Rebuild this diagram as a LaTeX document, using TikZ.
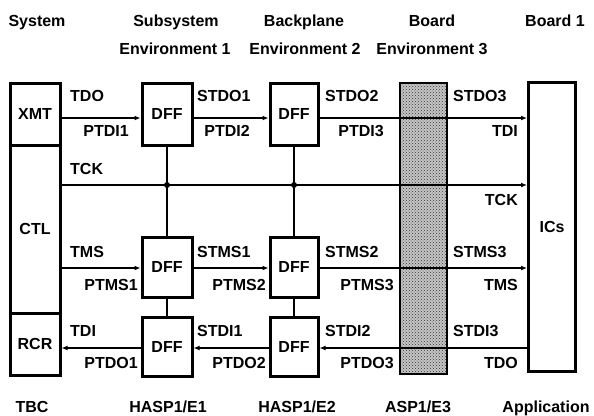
\documentclass[tikz,border=0pt]{standalone}
\usepackage{fontspec}
\setmainfont{Liberation Sans}
\usetikzlibrary{arrows.meta,patterns}
\begin{document}
\begin{tikzpicture}[x=1pt,y=-1pt,
  every node/.style={font=\bfseries\fontsize{16}{18}\selectfont, inner sep=0pt},
  box/.style={draw, line width=3pt},
  sig/.style={line width=2.2pt},
  arr/.style={sig, -{Latex[length=6pt,width=5pt]}},
  lab/.style={anchor=base west},
  rlab/.style={anchor=base east},
  hd/.style={anchor=base},
  dot/.style={circle, fill, minimum size=6pt, inner sep=0pt}]
\useasboundingbox (0,0) rectangle (594,415);
% shaded column
\fill[gray!45] (400,83) rectangle (447,374);
\fill[pattern=crosshatch dots, pattern color=black!80] (400,83) rectangle (447,374);
\draw[line width=2pt] (400,83) rectangle (447,374);
% boxes
\node[box, minimum width=50pt, minimum height=62pt] (xmt) at (35,114) {XMT};
\node[box, minimum width=50pt, minimum height=168pt] (ctl) at (35,229) {CTL};
\node[box, minimum width=50pt, minimum height=62pt] (rcr) at (35,344) {RCR};
\node[box, minimum width=50pt, minimum height=62pt] (d11) at (167,114) {DFF};
\node[box, minimum width=48pt, minimum height=62pt] (d12) at (294,114) {DFF};
\node[box, minimum width=50pt, minimum height=60pt] (d21) at (167,267) {DFF};
\node[box, minimum width=48pt, minimum height=60pt] (d22) at (294,267) {DFF};
\node[box, minimum width=50pt, minimum height=59pt] (d31) at (167,347) {DFF};
\node[box, minimum width=48pt, minimum height=59pt] (d32) at (294,347) {DFF};
\node[box, minimum width=47pt, minimum height=289pt] (ics) at (552,227) {ICs};
% TDI chain
\draw[arr] (xmt.east |- 0,118) -- (d11.west |- 0,118);
\draw[arr] (d11.east |- 0,118) -- (d12.west |- 0,118);
\draw[arr] (d12.east |- 0,118) -- (ics.west |- 0,118);
% TCK
\coordinate (j1) at (167,185);
\coordinate (j2) at (294,185);
\draw[arr] (ctl.east |- j1) -- (ics.west |- j1);
\node[dot] at (j1) {};
\node[dot] at (j2) {};
\draw[sig] (d11.south) -- (d21.north);
\draw[sig] (d12.south) -- (d22.north);
\draw[sig] (d21.south) -- (d31.north);
\draw[sig] (d22.south) -- (d32.north);
% TMS chain
\draw[arr] (ctl.east |- 0,268) -- (d21.west |- 0,268);
\draw[arr] (d21.east |- 0,268) -- (d22.west |- 0,268);
\draw[arr] (d22.east |- 0,268) -- (ics.west |- 0,268);
% TDO chain
\draw[arr] (ics.west |- 0,348) -- (d32.east |- 0,348);
\draw[arr] (d32.west |- 0,348) -- (d31.east |- 0,348);
\draw[arr] (d31.west |- 0,348) -- (rcr.east |- 0,348);
% labels row 1
\node[lab] (l1) at (70,101) {TDO};
\node[rlab] (l2) at (129,136) {PTDI1};
\node[lab] (l3) at (197,101) {STDO1};
\node[rlab] (l4) at (250,136) {PTDI2};
\node[lab] (l5) at (325,101) {STDO2};
\node[rlab] (l6) at (384,136) {PTDI3};
\node[lab] (l7) at (453,101) {STDO3};
\node[rlab] (l8) at (518,136) {TDI};
% TCK labels
\node[lab] (l9) at (70,174) {TCK};
\node[rlab] (l10) at (518,205) {TCK};
% labels row 2
\node[lab] (m1) at (70,257) {TMS};
\node[rlab] (m2) at (138,290) {PTMS1};
\node[lab] (m3) at (197,257) {STMS1};
\node[rlab] (m4) at (266,290) {PTMS2};
\node[lab] (m5) at (325,257) {STMS2};
\node[rlab] (m6) at (394,290) {PTMS3};
\node[lab] (m7) at (453,257) {STMS3};
\node[rlab] (m8) at (518,290) {TMS};
% labels row 3
\node[lab] (n1) at (70,336) {TDI};
\node[rlab] (n2) at (138,368) {PTDO1};
\node[lab] (n3) at (197,336) {STDI1};
\node[rlab] (n4) at (266,368) {PTDO2};
\node[lab] (n5) at (325,336) {STDI2};
\node[rlab] (n6) at (394,368) {PTDO3};
\node[lab] (n7) at (453,336) {STDI3};
\node[rlab] (n8) at (518,368) {TDO};
% headers
\node[hd] (h1) at (37,26) {System};
\node[hd] (h2) at (176,26) {Subsystem};
\node[hd] (h3) at (304,26) {Backplane};
\node[hd] (h4) at (432,26) {Board};
\node[hd] (h5) at (555,26) {Board 1};
\node[hd] (e1) at (175,54) {Environment 1};
\node[hd] (e2) at (305,54) {Environment 2};
\node[hd] (e3) at (432,54) {Environment 3};
% footers
\node[hd] (f1) at (32,412) {TBC};
\node[hd] (f2) at (168,412) {HASP1/E1};
\node[hd] (f3) at (297,412) {HASP1/E2};
\node[hd] (f4) at (418,412) {ASP1/E3};
\node[hd] (f5) at (546,412) {Application};
\end{tikzpicture}
\end{document}
